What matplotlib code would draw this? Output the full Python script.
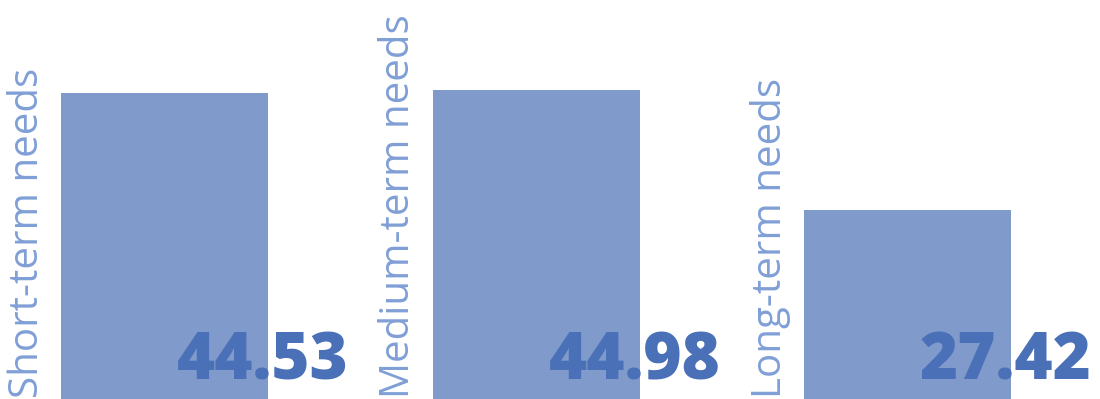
import matplotlib.pyplot as plt

categories = ['Short-term needs', 'Medium-term needs', 'Long-term needs']
values = [44.53, 44.98, 27.42]
value_labels = ['44.53', '44.98', '27.42']

fig = plt.figure(figsize=(11, 3.99), dpi=100)
ax = fig.add_axes([0, 0, 1, 1])

x = range(len(values))
ax.bar(x, values, width=0.557, color='#809bcb')

for i, (cat, v, lab) in enumerate(zip(categories, values, value_labels)):
    # category label, rotated, just left of the bar
    ax.text(i - 0.315, 0.2, cat, rotation=90, ha='right', va='bottom',
            fontsize=29, color='#7f9fd6', family=['Open Sans', 'DejaVu Sans'],
            fontweight='normal')
    # big value, bottom right, overlapping the bar
    ax.text(i + 0.495, 2.9, lab, ha='right', va='baseline',
            fontsize=47, color='#4a70b8', fontweight='heavy',
            family=['Open Sans', 'DejaVu Sans'])

ax.set_xlim(-0.444, 2.517)
ax.set_ylim(0, 58.0)
ax.axis('off')

fig.savefig('out.png', dpi=100)
